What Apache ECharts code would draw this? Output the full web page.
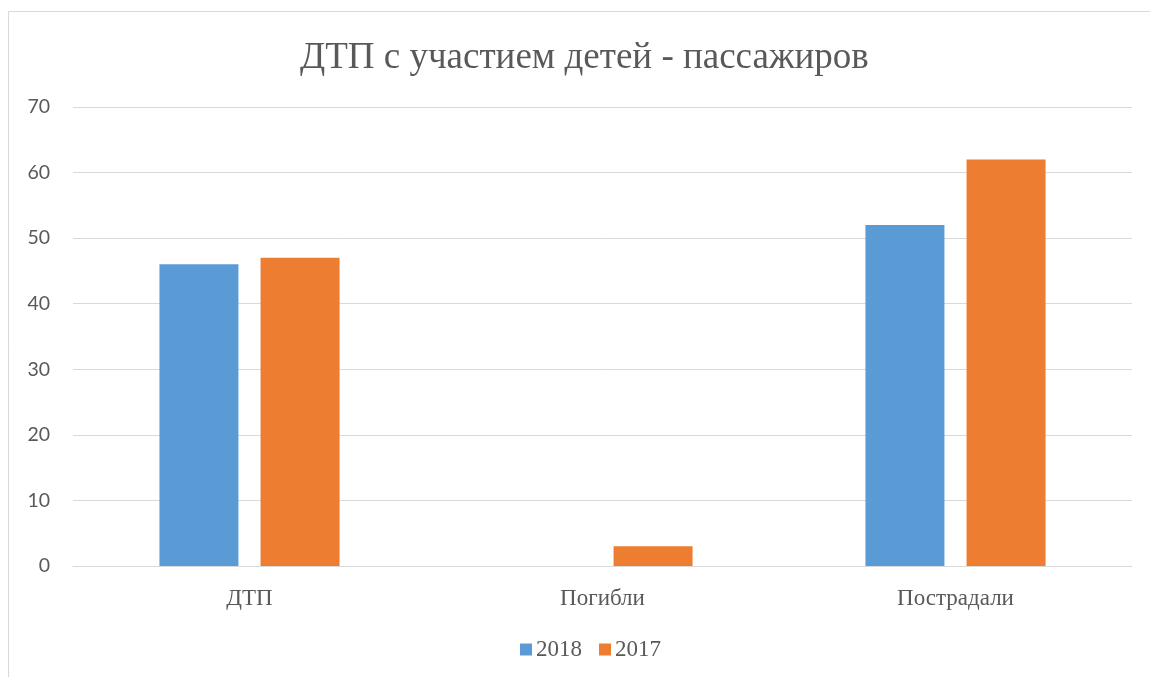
<!DOCTYPE html>
<html lang="ru">
<head>
<meta charset="UTF-8">
<title>ДТП с участием детей - пассажиров</title>
<script src="https://cdn.jsdelivr.net/npm/echarts@6/dist/echarts.min.js"></script>
<style>
  html, body { margin: 0; padding: 0; background: #fff; }
  #main { width: 1150px; height: 677px; }
</style>
</head>
<body>
<div id="main"></div>
<script>
var categories = ['ДТП', 'Погибли', 'Пострадали'];
var values2018 = [46, 0, 52];
var values2017 = [47, 3, 62];
var yTicks = [0, 10, 20, 30, 40, 50, 60, 70];

var chart = echarts.init(document.getElementById('main'));
var option = {
  backgroundColor: '#fff',
  animation: false,
  title: {
    text: 'ДТП с участием детей - пассажиров',
    left: 295,
    top: 35,
    textStyle: {
      fontFamily: 'Liberation Serif',
      fontSize: 37,
      fontWeight: 'normal',
      color: '#595959'
    }
  },
  graphic: [{
    type: 'rect',
    shape: { x: 8.5, y: 11.5, width: 1200, height: 700 },
    style: { fill: 'none', stroke: '#d9d9d9', lineWidth: 1 },
    silent: true
  }],
  legend: {
    top: 633,
    left: 515,
    itemWidth: 12,
    itemHeight: 12,
    itemGap: 17,
    icon: 'rect',
    textStyle: {
      fontFamily: 'Liberation Serif',
      fontSize: 23,
      color: '#595959',
      padding: [0, 0, 0, -1]
    },
    data: ['2018', '2017']
  },
  grid: {
    left: 73,
    right: 18,
    top: 107,
    bottom: 111,
    containLabel: false
  },
  xAxis: {
    type: 'category',
    data: categories,
    axisLine: { lineStyle: { color: '#d9d9d9' } },
    axisTick: { show: false },
    axisLabel: {
      margin: 21,
      fontFamily: 'Liberation Serif',
      fontSize: 23,
      color: '#595959'
    }
  },
  yAxis: {
    type: 'value',
    min: yTicks[0],
    max: yTicks[yTicks.length - 1],
    interval: 10,
    axisLine: { show: false },
    axisTick: { show: false },
    splitLine: { lineStyle: { color: '#d9d9d9', width: 1 } },
    axisLabel: {
      margin: 23,
      fontFamily: 'Lato',
      fontSize: 19.5,
      color: '#595959'
    }
  },
  series: [{
    name: '2018',
    type: 'bar',
    data: values2018,
    barWidth: 79,
    barGap: '28%',
    itemStyle: { color: '#5B9BD5' }
  }, {
    name: '2017',
    type: 'bar',
    data: values2017,
    barWidth: 79,
    itemStyle: { color: '#ED7D31' }
  }]
};
chart.setOption(option);
</script>
</body>
</html>
